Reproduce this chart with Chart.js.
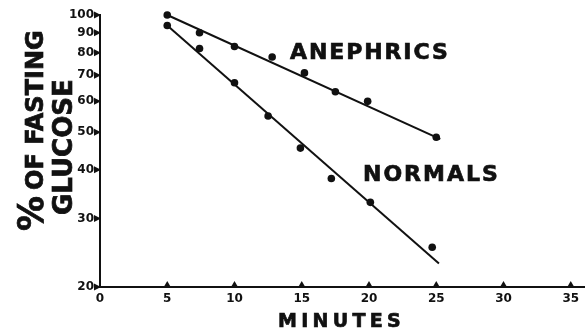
<!DOCTYPE html>
<html>
<head>
<meta charset="utf-8">
<script src="https://cdn.jsdelivr.net/npm/chart.js@4/dist/chart.umd.min.js"></script>
<style>
   html, body { margin: 0; padding: 0; background: #fff; }
   #wrap { width: 588px; height: 331px; position: relative; }
</style>
</head>
<body>
<div id="wrap"><canvas id="chart"></canvas></div>
<script>
// data
const anephricMinutes = [5, 7.4, 10, 12.8, 15.2, 17.5, 19.9, 25];
const anephricGlucose = [100, 90, 83, 78, 71, 63.5, 60, 48.5];
const normalMinutes   = [5, 7.4, 10, 12.5, 14.9, 17.2, 20.1, 24.7];
const normalGlucose   = [94, 82, 67, 55, 45.5, 38, 33, 25.3];

// fitted lines (end points)
const anephricFitMinutes = [5, 25.3];
const anephricFitGlucose = [100, 48];
const normalFitMinutes   = [5, 25.2];
const normalFitGlucose   = [94, 23];

const xTicks = [0, 5, 10, 15, 20, 25, 30, 35];
const yTicks = [20, 30, 40, 50, 60, 70, 80, 90, 100];

const INK = '#111';
const FONT = '"DejaVu Sans", sans-serif';

const toPoints = (xs, ys) => xs.map((x, i) => ({x: x, y: ys[i]}));

// bold text with a thin outline so it looks as heavy as the print
function heavyText(ctx, text, x, y, spacing) {
   ctx.letterSpacing = spacing + 'px';
   ctx.fillText(text, x, y);
   ctx.strokeText(text, x, y);
}

// draws the triangle tick marks, the axis titles and the series labels
const decorations = {
   id: 'decorations',
   afterDraw(chart) {
      const ctx = chart.ctx;
      const xs = chart.scales.x;
      const ys = chart.scales.y;
      const left = chart.chartArea.left;
      const bottom = chart.chartArea.bottom;

      ctx.save();
      ctx.fillStyle = INK;
      ctx.strokeStyle = INK;
      ctx.lineWidth = 0.7;

      // y ticks: triangles pointing right at the axis
      for (let v of yTicks) {
         let py = ys.getPixelForValue(v);
         ctx.beginPath();
         ctx.moveTo(left - 6, py - 3.5);
         ctx.lineTo(left + 1, py);
         ctx.lineTo(left - 6, py + 3.5);
         ctx.closePath();
         ctx.fill();
      }
      // x ticks: triangles pointing up on the axis
      for (let v of xTicks.slice(1)) {
         let px = xs.getPixelForValue(v);
         ctx.beginPath();
         ctx.moveTo(px - 3.5, bottom);
         ctx.lineTo(px, bottom - 6);
         ctx.lineTo(px + 3.5, bottom);
         ctx.closePath();
         ctx.fill();
      }

      ctx.textAlign = 'left';
      ctx.textBaseline = 'alphabetic';

      // series labels
      ctx.font = 'bold 22px ' + FONT;
      heavyText(ctx, 'ANEPHRICS', 290, 59, 1.9);
      heavyText(ctx, 'NORMALS', 363, 181, 2);

      // x title
      ctx.font = 'bold 19px ' + FONT;
      heavyText(ctx, 'MINUTES', 278, 327, 4.3);

      // y title, rotated
      ctx.save();
      ctx.translate(43, 0);
      ctx.rotate(-Math.PI / 2);
      ctx.font = 'bold 35px ' + FONT;
      heavyText(ctx, '%', -231, 0, 0);
      ctx.font = 'bold 24px ' + FONT;
      heavyText(ctx, 'OF FASTING', -190, 0, 0);
      ctx.restore();

      ctx.save();
      ctx.translate(72, 0);
      ctx.rotate(-Math.PI / 2);
      ctx.font = 'bold 26px ' + FONT;
      heavyText(ctx, 'GLUCOSE', -215, 0, 0);
      ctx.restore();

      ctx.restore();
   }
};

const pointStyle = {
   showLine: false,
   clip: false,
   pointRadius: 3.8,
   pointHoverRadius: 3.8,
   pointBackgroundColor: INK,
   pointBorderColor: INK,
   pointBorderWidth: 0
};
const lineStyle = {
   showLine: true,
   clip: false,
   pointRadius: 0,
   borderColor: INK,
   borderWidth: 2
};

new Chart(document.getElementById('chart'), {
   type: 'scatter',
   data: {
      datasets: [
         Object.assign({label: 'Anephrics', data: toPoints(anephricMinutes, anephricGlucose)}, pointStyle),
         Object.assign({label: 'Normals', data: toPoints(normalMinutes, normalGlucose)}, pointStyle),
         Object.assign({label: 'Anephrics fit', data: toPoints(anephricFitMinutes, anephricFitGlucose)}, lineStyle),
         Object.assign({label: 'Normals fit', data: toPoints(normalFitMinutes, normalFitGlucose)}, lineStyle)
      ]
   },
   options: {
      responsive: true,
      maintainAspectRatio: false,
      animation: false,
      layout: {
         padding: {left: 0, top: 15, right: 2, bottom: 0}
      },
      plugins: {
         legend: {display: false},
         tooltip: {enabled: false}
      },
      scales: {
         x: {
            type: 'linear',
            min: 0,
            max: 36,
            afterBuildTicks: (scale) => { scale.ticks = xTicks.map(v => ({value: v})); },
            afterFit: (scale) => { scale.height = 44; },
            grid: {display: false, drawTicks: false},
            border: {display: true, color: INK, width: 2},
            ticks: {
               color: INK,
               padding: 5,
               maxRotation: 0,
               font: {family: FONT, size: 12, weight: 'bold'},
               callback: (v) => String(v)
            }
         },
         y: {
            type: 'logarithmic',
            min: 20,
            max: 100,
            afterBuildTicks: (scale) => { scale.ticks = yTicks.map(v => ({value: v})); },
            afterFit: (scale) => { scale.width = 100; },
            grid: {display: false, drawTicks: false},
            border: {display: true, color: INK, width: 2},
            ticks: {
               color: INK,
               padding: 6,
               font: {family: FONT, size: 12, weight: 'bold'},
               callback: (v) => String(v)
            }
         }
      }
   },
   plugins: [decorations]
});
</script>
</body>
</html>
